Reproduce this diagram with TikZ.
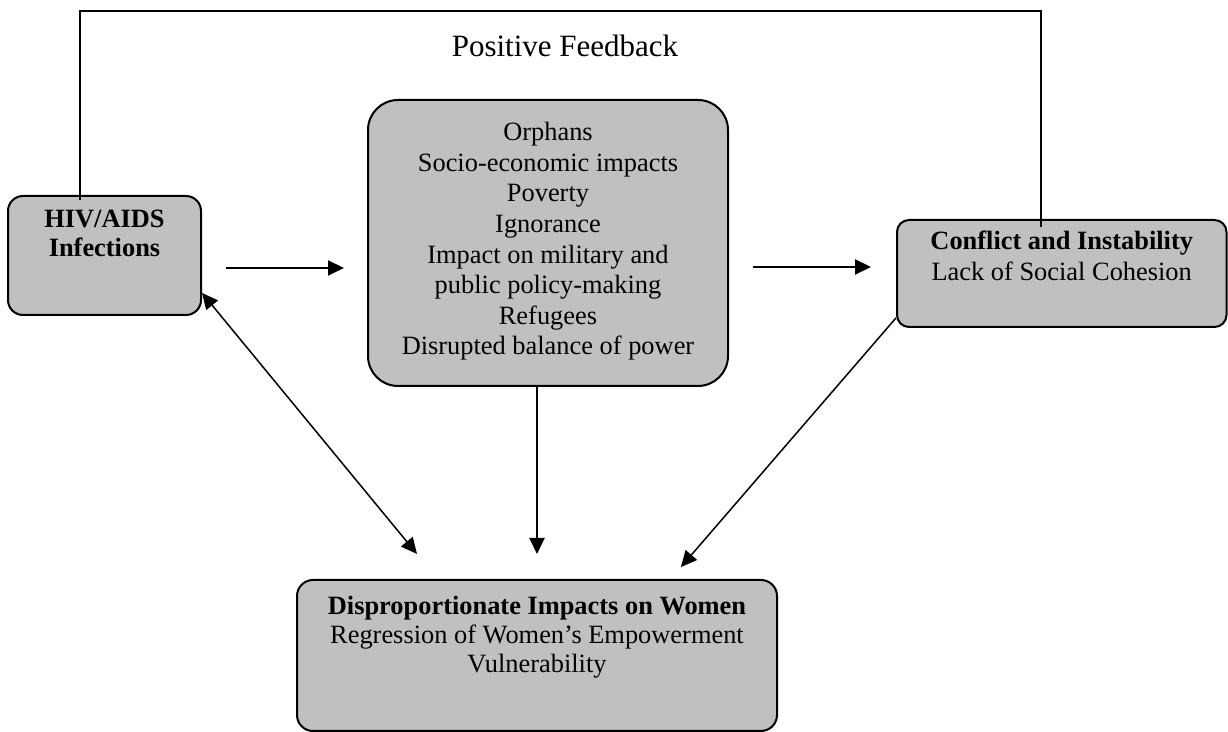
\documentclass[tikz,border=0pt]{standalone}
\usepackage{fontspec}
\setmainfont{Liberation Serif}
\usetikzlibrary{positioning,arrows.meta}
\definecolor{boxgray}{RGB}{192,192,192}

\begin{document}
\begin{tikzpicture}[x=0.5pt,y=-0.5pt,
    box/.style={draw, line width=1pt, fill=boxgray, inner sep=0pt},
    txt/.style={align=center, inner sep=0pt, font=\fontsize{13.2}{14.5}\selectfont},
    arr/.style={line width=1pt, -{Triangle[length=8pt,width=7.5pt]}},
    thinarr/.style={line width=0.75pt, -{Triangle[length=8pt,width=7.5pt]}},
    dblarr/.style={line width=0.75pt, {Triangle[length=8pt,width=7.5pt]}-{Triangle[length=8pt,width=7.5pt]}}]
    \useasboundingbox (0,0) rectangle (1228,732);

    % Define boxes
    \node[box, minimum width=96.5pt, minimum height=59.5pt, rounded corners=7.5pt] (hiv) at (104.5,255.5) {};
    \node[box, minimum width=180pt, minimum height=143pt, rounded corners=15pt] (mid) at (548,243) {};
    \node[box, minimum width=164.75pt, minimum height=53.5pt, rounded corners=6pt] (conf) at (1061.75,273.5) {};
    \node[box, minimum width=240pt, minimum height=75.5pt, rounded corners=8pt] (women) at (537,655.5) {};

    % Box texts
    \node[txt, below=7.5pt of hiv.north] (hivtxt) {\textbf{HIV/AIDS}\\\textbf{Infections}};
    \node[txt, font=\fontsize{13.2}{15.3}\selectfont, below=11.5pt of mid.north] (midtxt)
        {Orphans\\Socio-economic impacts\\Poverty\\Ignorance\\Impact on military and\\public policy-making\\Refugees\\Disrupted balance of power};
    \node[txt, font=\fontsize{13.2}{15.5}\selectfont, below=6pt of conf.north] (conftxt)
        {\textbf{Conflict and Instability}\\Lack of Social Cohesion};
    \node[txt, below=8.5pt of women.north] (womentxt)
        {\textbf{Disproportionate Impacts on Women}\\Regression of Women's Empowerment\\Vulnerability};
    \node[font=\fontsize{15.5}{17}\selectfont, inner sep=0pt] (fb) at (565,46) {Positive Feedback};

    % Feedback loop
    \coordinate (fbL) at ([xshift=-12.25pt,yshift=-2.5pt]hiv.north);
    \coordinate (fbR) at ([xshift=-10.5pt,yshift=-4pt]conf.north);
    \coordinate (fbtop) at (600,11);
    \draw[line width=1pt] (fbL) -- (fbL |- fbtop) -- (fbR |- fbtop) -- (fbR);

    % Draw arrows
    \coordinate (a1) at ([yshift=-6.25pt]hiv.east);
    \coordinate (a2) at ([yshift=3.25pt]conf.west);
    \draw[arr, shorten <=12pt, shorten >=11.5pt] (a1) -- (a1 -| mid.west);
    \draw[arr, shorten <=12pt, shorten >=12.5pt] (a2 -| mid.east) -- (a2);
    \draw[arr, shorten >=12.5pt] (mid.south -| women.north) -- (women.north);
    \draw[dblarr, shorten >=16.2pt] (hiv.-21) -- ([xshift=-49.7pt]women.north);
    \draw[thinarr, shorten >=7.9pt] (conf.195) -- ([xshift=66.8pt]women.north);
\end{tikzpicture}
\end{document}
